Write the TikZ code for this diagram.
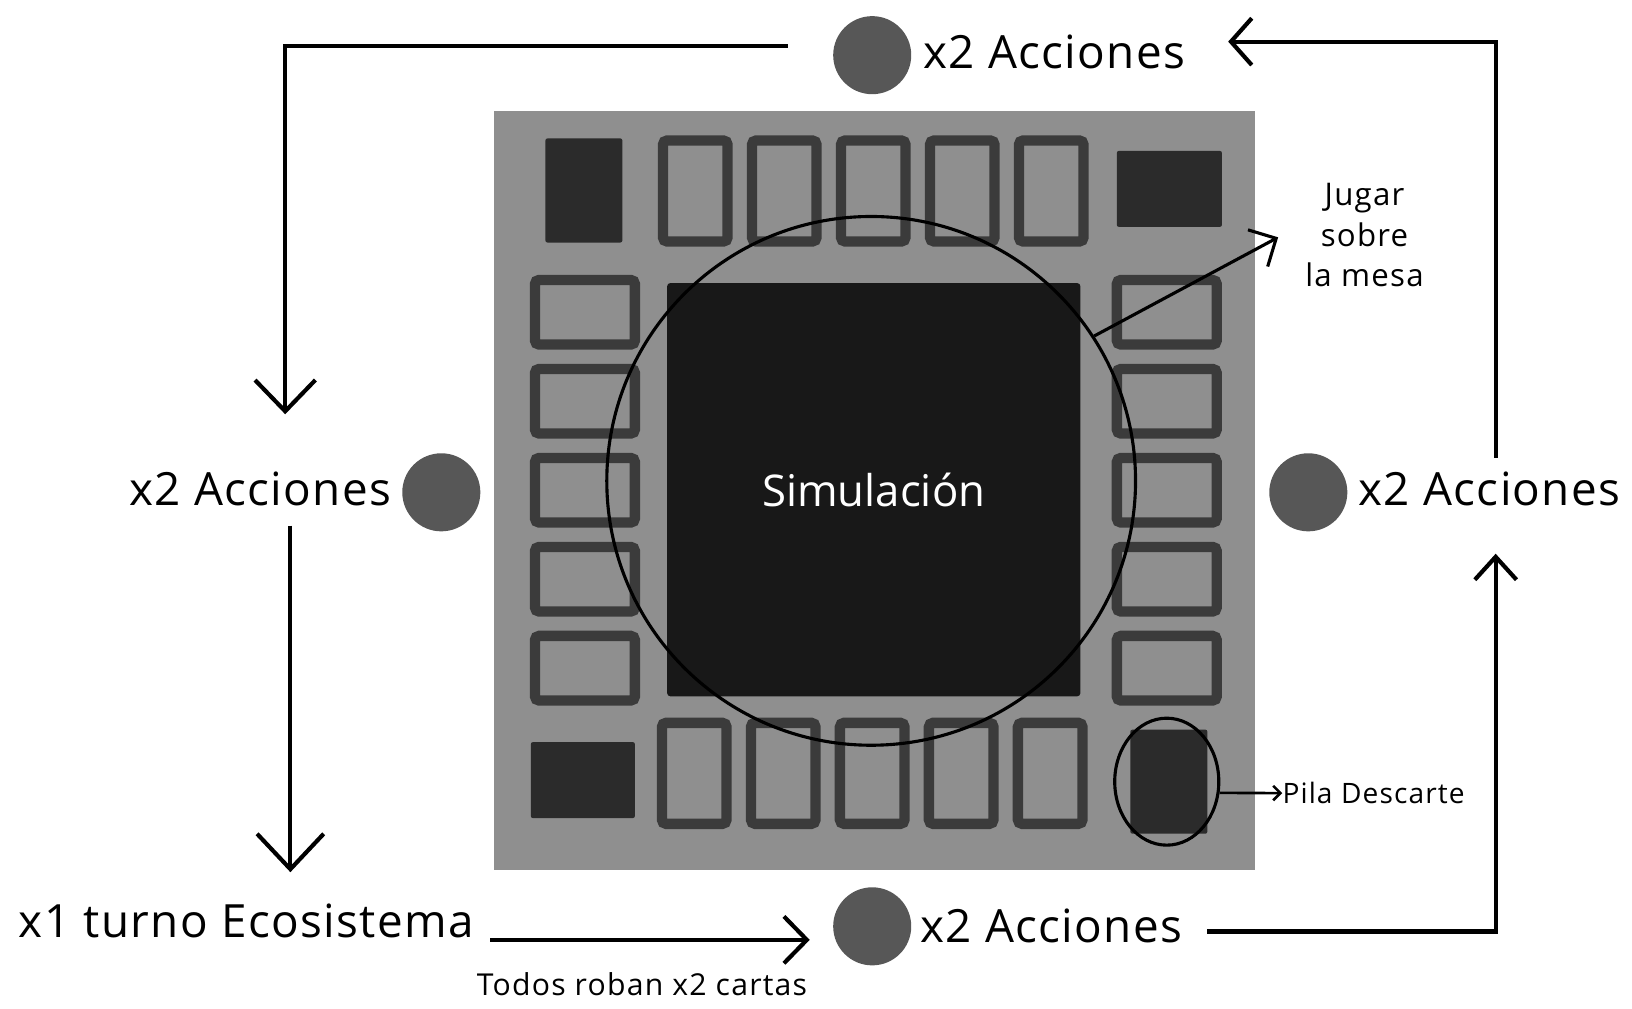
\documentclass[tikz,border=0pt]{standalone}
\usepackage{fontspec}
\setmainfont{Open Sans}
\usetikzlibrary{arrows.meta,shapes.geometric}
\definecolor{boardgray}{HTML}{8F8F8F}
\definecolor{cardline}{HTML}{3B3B3B}
\definecolor{pilegray}{HTML}{2B2B2B}
\definecolor{simgray}{HTML}{181818}
\definecolor{tokengray}{HTML}{575757}
\tikzstyle{card}=[draw=cardline, line width=10pt, rounded corners=4pt, fill=boardgray, inner sep=0pt]
\tikzstyle{tcard}=[card, minimum width=62pt, minimum height=97pt]
\tikzstyle{scard}=[card, minimum width=96pt, minimum height=62pt]
\tikzstyle{pile}=[fill=pilegray, rounded corners=2pt, inner sep=0pt]
\tikzstyle{token}=[circle, fill=tokengray, minimum size=75pt, inner sep=0pt]
\tikzstyle{big}=[font=\fontsize{44}{50}\selectfont\addfontfeature{LetterSpace=3}, inner sep=0pt]
\tikzstyle{small}=[font=\fontsize{29}{39}\selectfont\addfontfeature{LetterSpace=4}, inner sep=0pt]
\tikzstyle{flow}=[line width=4pt]

\begin{document}
\begin{tikzpicture}[x=1pt,y=-1pt]
\def \dx {85.5}
\useasboundingbox (0,0) rectangle (1568,969);
% board
\node[fill=boardgray, minimum width=731pt, minimum height=729pt, inner sep=0pt] (board) at (840.5,471.5) {};
\foreach \i in {0,...,4} {
	\node[tcard] (top\i) at (668+\dx*\i,183.5) {};
	\node[tcard] (bot\i) at (667+\dx*\i,743) {};
	\node[scard] (lft\i) at (562,300+\dx*\i) {};
	\node[scard] (rgt\i) at (1121,300+\dx*\i) {};
}
\node[pile, minimum width=74pt, minimum height=100pt] (pileTL) at (561,183) {};
\node[pile, minimum width=101pt, minimum height=73pt] (pileTR) at (1123.5,181.5) {};
\node[pile, minimum width=100pt, minimum height=73pt] (pileBL) at (560,749.5) {};
\node[pile, minimum width=74pt, minimum height=100pt] (pileBR) at (1123,751) {};
\node[fill=simgray, rounded corners=3pt, minimum size=397pt, inner sep=0pt,
	text=white, font=\fontsize{42}{48}\selectfont] (sim) at (839.5,470.5) {Simulación};
\node[circle, draw, line width=3pt, minimum size=508pt, inner sep=0pt] (mesa) at (837,462) {};
\node[ellipse, draw, line width=3pt, minimum width=100pt, minimum height=122pt, inner sep=0pt] (pila) at (1121,751) {};

% players
\node[token] (dotT) at (838,53) {};
\node[token] (dotL) at (424,473) {};
\node[token] (dotR) at (1257,473) {};
\node[token] (dotB) at (838,890) {};
\node[big, anchor=west] (accT) at (887,50) {x2 Acciones};
\node[big, anchor=east] (accL) at (376,470) {x2 Acciones};
\node[big, anchor=west] (accR) at (1305,470) {x2 Acciones};
\node[big, anchor=west] (accB) at (884,890) {x2 Acciones};
\node[big, anchor=west] (turno) at (18,885) {x1 turno Ecosistema};
\node[small, anchor=west] (roban) at (458,946) {Todos roban x2 cartas};
\node[small, font=\fontsize{30}{39}\selectfont\addfontfeature{LetterSpace=4}, align=center] (jugar) at (1311,226) {Jugar\\sobre\\la mesa};
\node[small, font=\fontsize{27}{30}\selectfont\addfontfeature{LetterSpace=4}, anchor=west] (descarte) at (1232,762) {Pila Descarte};

% turn order
\coordinate (a1) at (757,44);
\coordinate (a2) at (274,398);
\coordinate (b1) at (279,505);
\coordinate (b2) at (279,838);
\coordinate (c1) at (471,903);
\coordinate (c2) at (778,903);
\coordinate (d1) at (1160,895);
\coordinate (d2) at (1437,532);
\coordinate (e1) at (1437,440);
\coordinate (e2) at (1180,40);
\draw[flow, -{Straight Barb[length=30pt, width=58pt]}] (a1) -| (a2);
\draw[flow, -{Straight Barb[length=34pt, width=64pt]}] (b1) -- (b2);
\draw[flow, -{Straight Barb[length=22pt, width=45pt]}] (c1) -- (c2);
\draw[flow, -{Straight Barb[length=22pt, width=40pt]}] (d1) -| (d2);
\draw[flow, -{Straight Barb[length=20pt, width=45pt]}] (e1) |- (e2);

% labels on the board
\coordinate (jugtip) at (1228,228);
\draw[line width=3pt, -{Straight Barb[length=20pt, width=40pt]}] (mesa.33) -- (jugtip);
\draw[line width=2.5pt, -{Straight Barb[length=7pt, width=14pt]}] (pila.-12) -- (descarte.west);
\end{tikzpicture}
\end{document}
